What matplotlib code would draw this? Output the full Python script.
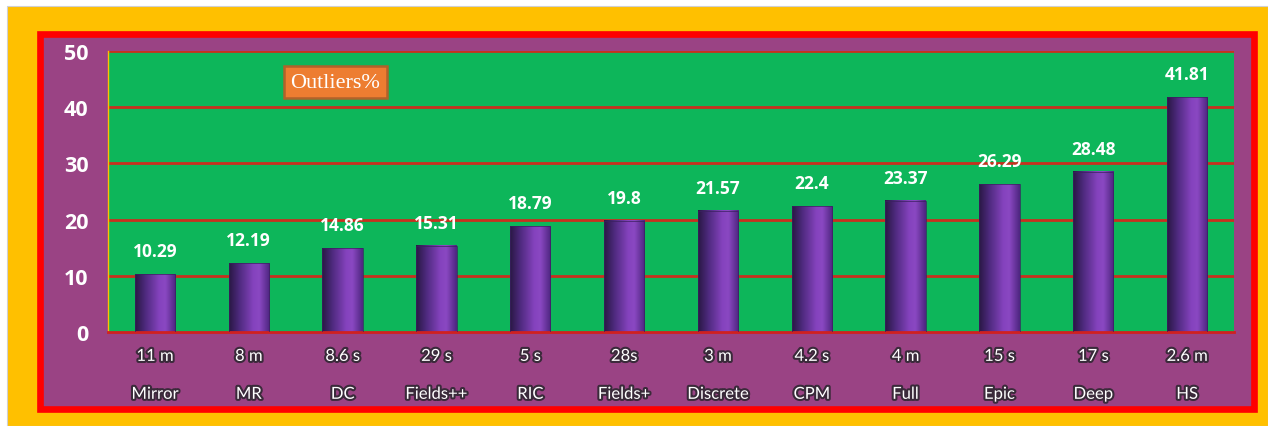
import numpy as np
import matplotlib
matplotlib.use("Agg")
import matplotlib.pyplot as plt
from matplotlib.patches import Rectangle
from matplotlib.colors import LinearSegmentedColormap
import matplotlib.patheffects as pe

names = ["Mirror", "MR", "DC", "Fields++", "RIC", "Fields+", "Discrete", "CPM", "Full", "Epic", "Deep", "HS"]
times = ["11 m", "8 m", "8.6 s", "29 s", "5 s", "28s", "3 m", "4.2 s", "4 m", "15 s", "17 s", "2.6 m"]
values = [10.29, 12.19, 14.86, 15.31, 18.79, 19.8, 21.57, 22.4, 23.37, 26.29, 28.48, 41.81]
value_labels = ["10.29", "12.19", "14.86", "15.31", "18.79", "19.8", "21.57", "22.4", "23.37", "26.29", "28.48", "41.81"]
yticks = [0, 10, 20, 30, 40, 50]
title = "Outliers%"

W, H = 1268, 427
fig = plt.figure(figsize=(W / 100, H / 100), dpi=100)
fig.patch.set_facecolor("white")

def px(x0, y0, x1, y1):
    return (x0 / W, 1 - y1 / H, (x1 - x0) / W, (y1 - y0) / H)

# yellow background
x, y, w, h = px(7, 7, W, H)
fig.patches.append(Rectangle((x, y), w, h, transform=fig.transFigure, facecolor="#FFC000",
                             edgecolor="#D0D0D0", linewidth=0.8, zorder=0))
# red frame with purple fill
x, y, w, h = px(40, 34.5, 1254, 410)
fig.patches.append(Rectangle((x, y), w, h, transform=fig.transFigure, facecolor="#9A4384",
                             edgecolor="#FF0000", linewidth=4.8, zorder=1))

ax = fig.add_axes([108 / W, 1 - 333 / H, (1234 - 108) / W, (333 - 52) / H])
ax.set_facecolor("#0DB65A")
ax.set_zorder(2)

n = len(values)
xs = np.arange(n)

for t in yticks[1:]:
    ax.axhline(t, color="#C8301E", linewidth=2.0, zorder=1)

cmap = LinearSegmentedColormap.from_list("cyl", [
    (0.0, "#2A1845"), (0.25, "#4E2A7E"), (0.6, "#8543BE"), (0.75, "#8A48C2"), (1.0, "#4E2680")])
grad = np.linspace(0, 1, 64).reshape(1, -1)
bw = 0.43
bars = ax.bar(xs, values, width=bw, color="none", edgecolor="#3A2060", linewidth=0.5, zorder=3)
for b in bars:
    bx, by = b.get_x(), b.get_y()
    ax.imshow(grad, cmap=cmap, aspect="auto", extent=[bx, bx + b.get_width(), by, by + b.get_height()],
              zorder=2.5, interpolation="bicubic")
ax.set_xlim(-0.5, n - 0.5)
ax.set_ylim(0, 50)

for xi, v, lab in zip(xs, values, value_labels):
    ax.text(xi, v + 2.5, lab, ha="center", va="bottom", color="white", fontsize=12.5,
            fontweight="bold", family="Open Sans", zorder=4)

ax.set_yticks(yticks)
ax.set_yticklabels([str(t) for t in yticks], color="white", fontsize=15.5, fontweight="bold", family="Open Sans")
ax.tick_params(axis="y", length=0, pad=14)
ax.set_xticks([])

for s in ["top", "right"]:
    ax.spines[s].set_visible(False)
ax.spines["left"].set_color("#FFC000")
ax.spines["left"].set_linewidth(1.0)
ax.spines["bottom"].set_color("#D02020")
ax.spines["bottom"].set_linewidth(2.0)

stroke = [pe.withStroke(linewidth=3, foreground="#3A2A3A")]
for xi, t, nm in zip(xs, times, names):
    ax.text(xi, -0.085, t, transform=ax.get_xaxis_transform(), ha="center", va="center",
            color="white", fontsize=12, family="Lato", path_effects=stroke)
    ax.text(xi, -0.22, nm, transform=ax.get_xaxis_transform(), ha="center", va="center",
            color="white", fontsize=12, family="Lato", path_effects=stroke)

fig.text(335.5 / W, 1 - 83 / H, title, ha="center", va="center", color="white", fontsize=16,
         family="Liberation Serif", zorder=5,
         bbox=dict(boxstyle="square,pad=0.3", facecolor="#ED7D31", edgecolor="#B0622A", linewidth=1.8))

fig.savefig("out.png", dpi=100, facecolor=fig.get_facecolor())
